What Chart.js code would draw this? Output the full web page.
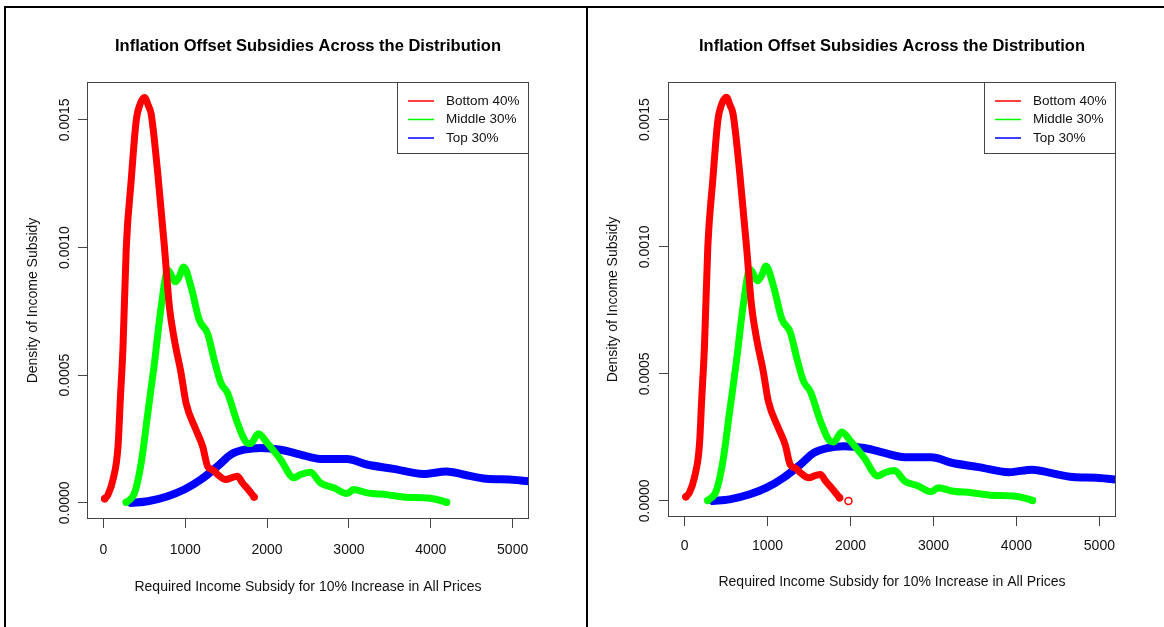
<!DOCTYPE html>
<html>
<head>
<meta charset="utf-8">
<title>Inflation Offset Subsidies</title>
<script src="https://cdn.jsdelivr.net/npm/chart.js@4.4.1/dist/chart.umd.min.js"></script>
<style>
  html, body { margin: 0; padding: 0; background: #fff; }
  #halaman { position: relative; width: 1164px; height: 627px; overflow: hidden; }
  #halaman canvas { position: absolute; top: 0; }
  .garis { position: absolute; background: #000; z-index: 5; }
</style>
</head>
<body>
<div id="halaman">
  <canvas id="grafikKiri" width="585" height="627" style="left:0"></canvas>
  <canvas id="grafikKanan" width="576" height="627" style="left:588px"></canvas>
  <div class="garis" style="left:4px; top:6px; width:1160px; height:2px"></div>
  <div class="garis" style="left:4px; top:6px; width:2px; height:621px"></div>
  <div class="garis" style="left:586px; top:6px; width:2px; height:621px"></div>
</div>
<script>
// Data (kurva densitas)
const bottomX = [16, 57, 118, 179, 207, 240, 280, 340, 401, 450, 503, 550, 584, 665, 746, 807, 868, 949, 1010, 1131, 1213, 1273, 1340, 1395, 1496, 1580, 1638, 1699, 1770, 1841];
const bottomY = [0.000016, 0.000032, 0.000091, 0.000221, 0.000404, 0.000612, 0.001002, 0.001263, 0.001497, 0.001563, 0.001588, 0.001555, 0.001523, 0.001289, 0.001002, 0.000768, 0.000638, 0.000508, 0.000391, 0.000286, 0.000221, 0.000143, 0.000128, 0.000111, 0.000091, 0.0001, 0.000104, 0.000078, 0.000052, 0.000023];

const middleX = [280, 381, 462, 543, 624, 706, 787, 880, 930, 981, 1071, 1172, 1273, 1354, 1436, 1517, 1638, 1760, 1800, 1893, 2003, 2165, 2327, 2409, 2530, 2652, 2814, 2976, 3057, 3220, 3463, 3666, 3990, 4112, 4193];
const middleY = [0.000002, 0.000039, 0.000156, 0.000352, 0.000547, 0.000768, 0.000911, 0.000866, 0.000888, 0.000924, 0.000846, 0.000716, 0.000664, 0.00056, 0.000469, 0.00043, 0.000313, 0.000234, 0.000232, 0.000271, 0.000234, 0.000169, 0.000098, 0.000111, 0.00012, 0.000078, 0.000059, 0.000036, 0.000052, 0.000039, 0.000032, 0.000023, 0.000018, 0.00001, 0.000002];

const topX = [340, 543, 787, 989, 1192, 1395, 1557, 1719, 1922, 2165, 2409, 2652, 2976, 3220, 3544, 3909, 4193, 4396, 4680, 4964, 5199, 5400];
const topY = [0, 0.000006, 0.000026, 0.000052, 0.000091, 0.000143, 0.000189, 0.000208, 0.000215, 0.000208, 0.000189, 0.000172, 0.000172, 0.00015, 0.000133, 0.000113, 0.000123, 0.000111, 0.000094, 0.000091, 0.000084, 0.00008];

// panel kanan: ekor merah sedikit lebih panjang + satu titik terpisah
const bottomTailRightX = [1868];
const bottomTailRightY = [0.000012];
const strayRightX = [1975];
const strayRightY = [0];

const seriesLabels = ["Bottom 40%", "Middle 30%", "Top 30%"];
const seriesColors = ["#ff0000", "#00ff00", "#0000ff"];
const xTicks = [0, 1000, 2000, 3000, 4000, 5000];
const yTicks = [0, 0.0005, 0.001, 0.0015];

const judul = "Inflation Offset Subsidies Across the Distribution";
const judulX = "Required Income Subsidy for 10% Increase in All Prices";
const judulY = "Density of Income Subsidy";

Chart.defaults.font.family = "'Liberation Sans', Arial, sans-serif";
Chart.defaults.color = "#000";

const gabung = (xs, ys) => xs.map((x, i) => ({ x: x, y: ys[i] }));

// Kotak area plot (gaya R)
const kotakPlot = {
  id: "kotakPlot",
  afterDatasetsDraw(chart) {
    const { ctx, chartArea: a } = chart;
    ctx.save();
    ctx.strokeStyle = "#444";
    ctx.lineWidth = 1;
    ctx.strokeRect(Math.round(a.left) + 0.5, Math.round(a.top) + 0.5, Math.round(a.width) - 1, Math.round(a.height) - 1);
    ctx.restore();
  },
};

// Legenda di pojok kanan atas area plot
const legendaDalam = {
  id: "legendaDalam",
  afterDraw(chart) {
    const { ctx, chartArea: a } = chart;
    const w = 132, h = 72;
    const left = Math.round(a.right) - w, top = Math.round(a.top);
    ctx.save();
    ctx.fillStyle = "#fff";
    ctx.fillRect(left, top, w, h);
    ctx.strokeStyle = "#444";
    ctx.lineWidth = 1;
    ctx.strokeRect(left + 0.5, top + 0.5, w - 1, h - 1);
    ctx.font = "13.5px 'Liberation Sans', Arial, sans-serif";
    ctx.textBaseline = "middle";
    const rows = [19, 37.5, 56];
    seriesLabels.forEach((lab, i) => {
      const y = top + rows[i];
      ctx.strokeStyle = seriesColors[i];
      ctx.lineWidth = 1.5;
      ctx.beginPath();
      ctx.moveTo(left + 11, y);
      ctx.lineTo(left + 37, y);
      ctx.stroke();
      ctx.fillStyle = "#111";
      ctx.fillText(lab, left + 49, y);
    });
    ctx.restore();
  },
};

function ujung(ctx) {
  const n = ctx.dataset.data.length;
  return ctx.dataIndex === 0 || ctx.dataIndex === n - 1 ? 3 : 0;
}

function seri(data, i, lebar) {
  return {
    label: seriesLabels[i],
    data: data,
    borderColor: seriesColors[i],
    backgroundColor: "rgba(255,255,255,0)",
    borderWidth: lebar,
    borderCapStyle: "round",
    borderJoinStyle: "round",
    cubicInterpolationMode: "monotone",
    pointRadius: ujung,
    pointBorderWidth: 1.5,
    pointBorderColor: seriesColors[i],
    pointBackgroundColor: "rgba(255,255,255,0)",
    fill: false,
  };
}

function buatGrafik(id, p, kanan) {
  const merah = gabung(bottomX, bottomY);
  const datasets = [];
  if (kanan) {
    datasets.push(seri(merah.concat(gabung(bottomTailRightX, bottomTailRightY)), 0, 7));
  } else {
    datasets.push(seri(merah, 0, 7));
  }
  datasets.push(seri(gabung(middleX, middleY), 1, 7));
  datasets.push(seri(gabung(topX, topY), 2, 8));
  if (kanan) {
    datasets.push({
      label: "",
      data: gabung(strayRightX, strayRightY),
      showLine: false,
      pointRadius: 3.5,
      pointBorderWidth: 1.5,
      pointBorderColor: seriesColors[0],
      pointBackgroundColor: "#fff",
    });
  }

  const ctx = document.getElementById(id).getContext("2d");
  return new Chart(ctx, {
    type: "line",
    data: { datasets: datasets },
    options: {
      responsive: false,
      animation: false,
      layout: { padding: { left: 0, right: p.kanan, top: 0, bottom: 0 } },
      plugins: {
        legend: { display: false },
        tooltip: { enabled: false },
        title: {
          display: true,
          text: judul,
          fullSize: false,
          color: "#000",
          font: { size: 16.5, weight: "bold" },
          padding: { top: 36.1, bottom: 26.1 },
        },
      },
      scales: {
        x: {
          type: "linear",
          min: -200,
          max: 5200,
          afterBuildTicks: (s) => { s.ticks = xTicks.map((v) => ({ value: v })); },
          ticks: {
            autoSkip: false,
            padding: p.padTickX,
            font: { size: 14 },
            color: "#111",
            callback: (v) => String(v),
          },
          grid: { drawOnChartArea: false, drawTicks: true, tickLength: 9, color: "#444" },
          border: { display: false },
          title: {
            display: true,
            text: judulX,
            color: "#111",
            font: { size: 14 },
            padding: { top: 0, bottom: p.padJudulX },
          },
          afterFit: (s) => {
            s.height = p.tinggiX;
            s.paddingLeft = 0; s.paddingRight = 0; s.paddingTop = 0; s.paddingBottom = 0;
          },
        },
        y: {
          type: "linear",
          min: -0.0000634,
          max: 0.0016484,
          afterBuildTicks: (s) => { s.ticks = yTicks.map((v) => ({ value: v })); },
          ticks: {
            autoSkip: false,
            minRotation: 90,
            maxRotation: 90,
            crossAlign: "center",
            padding: p.padTickY,
            font: { size: 14 },
            color: "#111",
            callback: (v) => v.toFixed(4),
          },
          grid: { drawOnChartArea: false, drawTicks: true, tickLength: 9, color: "#444" },
          border: { display: false },
          title: {
            display: true,
            text: judulY,
            color: "#111",
            font: { size: 14 },
            padding: { top: p.padJudulY, bottom: 0 },
          },
          afterFit: (s) => {
            s.width = p.lebarY;
            s.paddingLeft = 0; s.paddingRight = 0; s.paddingTop = 0; s.paddingBottom = 0;
          },
        },
      },
    },
    plugins: [kotakPlot, legendaDalam],
  });
}

// Panel kiri
buatGrafik("grafikKiri", {
  kanan: 56, tinggiX: 108, lebarY: 87,
  padTickX: 13.6, padJudulX: 31.6, padTickY: -9, padJudulY: 24.6,
}, false);

// Panel kanan
buatGrafik("grafikKanan", {
  kanan: 48, tinggiX: 110, lebarY: 80,
  padTickX: 11.6, padJudulX: 36.6, padTickY: -8, padJudulY: 16.6,
}, true);
</script>
</body>
</html>
